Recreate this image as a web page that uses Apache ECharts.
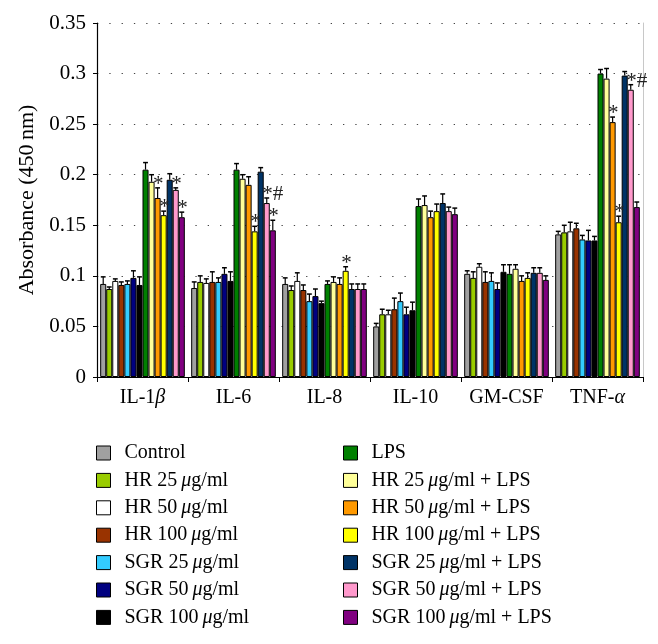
<!DOCTYPE html>
<html>
<head>
<meta charset="utf-8">
<script src="https://cdn.jsdelivr.net/npm/echarts@6/dist/echarts.min.js"></script>
<style>html,body{margin:0;padding:0;background:#fff}#c{width:658px;height:644px}</style>
</head>
<body>
<div id="c"></div>
<script>
const categories = ['IL-1β', 'IL-6', 'IL-8', 'IL-10', 'GM-CSF', 'TNF-α'];
const yTicks = [0, 0.05, 0.1, 0.15, 0.2, 0.25, 0.3, 0.35];
const seriesNames = [
  'Control', 'HR 25\u2009μg/ml', 'HR 50\u2009μg/ml', 'HR 100\u2009μg/ml',
  'SGR 25\u2009μg/ml', 'SGR 50\u2009μg/ml', 'SGR 100\u2009μg/ml',
  'LPS', 'HR 25\u2009μg/ml + LPS', 'HR 50\u2009μg/ml + LPS', 'HR 100\u2009μg/ml + LPS',
  'SGR 25\u2009μg/ml + LPS', 'SGR 50\u2009μg/ml + LPS', 'SGR 100\u2009μg/ml + LPS'
];
const colors = ['#a0a0a0', '#99cc00', '#ffffff', '#993300', '#33ccff', '#000080', '#000000',
  '#008000', '#ffff99', '#ff9900', '#ffff00', '#003366', '#ff99cc', '#800080'];

// values per series, one entry per category
const control    = [0.092, 0.088, 0.092, 0.050, 0.102, 0.141];
const hr25       = [0.087, 0.094, 0.086, 0.062, 0.098, 0.143];
const hr50       = [0.095, 0.093, 0.095, 0.062, 0.109, 0.144];
const hr100      = [0.091, 0.094, 0.086, 0.067, 0.094, 0.147];
const sgr25      = [0.092, 0.094, 0.075, 0.075, 0.095, 0.136];
const sgr50      = [0.098, 0.102, 0.080, 0.062, 0.087, 0.135];
const sgr100     = [0.091, 0.095, 0.073, 0.066, 0.104, 0.135];
const lps        = [0.205, 0.205, 0.092, 0.169, 0.102, 0.300];
const hr25Lps    = [0.193, 0.196, 0.094, 0.170, 0.107, 0.295];
const hr50Lps    = [0.177, 0.190, 0.092, 0.158, 0.095, 0.252];
const hr100Lps   = [0.160, 0.144, 0.105, 0.164, 0.098, 0.153];
const sgr25Lps   = [0.195, 0.203, 0.087, 0.172, 0.103, 0.298];
const sgr50Lps   = [0.185, 0.172, 0.087, 0.164, 0.103, 0.284];
const sgr100Lps  = [0.158, 0.145, 0.087, 0.161, 0.096, 0.168];
const values = [control, hr25, hr50, hr100, sgr25, sgr50, sgr100,
  lps, hr25Lps, hr50Lps, hr100Lps, sgr25Lps, sgr50Lps, sgr100Lps];

// error bar sizes (upper), per series
const controlErr   = [0.007, 0.006, 0.006, 0.003, 0.003, 0.003];
const hr25Err      = [0.002, 0.006, 0.004, 0.005, 0.006, 0.007];
const hr50Err      = [0.002, 0.004, 0.008, 0.004, 0.003, 0.009];
const hr100Err     = [0.003, 0.010, 0.005, 0.011, 0.010, 0.005];
const sgr25Err     = [0.003, 0.004, 0.007, 0.008, 0.008, 0.004];
const sgr50Err     = [0.007, 0.006, 0.007, 0.007, 0.006, 0.010];
const sgr100Err    = [0.008, 0.009, 0.002, 0.008, 0.007, 0.004];
const lpsErr       = [0.007, 0.006, 0.003, 0.007, 0.009, 0.004];
const hr25LpsErr   = [0.007, 0.004, 0.005, 0.009, 0.004, 0.010];
const hr50LpsErr   = [0.010, 0.008, 0.006, 0.006, 0.005, 0.005];
const hr100LpsErr  = [0.004, 0.005, 0.004, 0.007, 0.005, 0.006];
const sgr25LpsErr  = [0.006, 0.004, 0.005, 0.009, 0.005, 0.004];
const sgr50LpsErr  = [0.002, 0.005, 0.005, 0.004, 0.005, 0.005];
const sgr100LpsErr = [0.005, 0.010, 0.005, 0.006, 0.004, 0.005];
const errors = [controlErr, hr25Err, hr50Err, hr100Err, sgr25Err, sgr50Err, sgr100Err,
  lpsErr, hr25LpsErr, hr50LpsErr, hr100LpsErr, sgr25LpsErr, sgr50LpsErr, sgr100LpsErr];

// significance marks: [category index, series index, text]
const marks = [
  [0, 9, '*'], [0, 10, '*'], [0, 12, '*'], [0, 13, '*'],
  [1, 10, '*'], [1, 12, '*#'], [1, 13, '*'],
  [2, 10, '*'],
  [5, 9, '*'], [5, 10, '*'], [5, 12, '*#']
];

const FONT = 'Liberation Serif';
const NS = seriesNames.length;
const CAT_GAP = 0.07;

function barCenter(api, cat, s, val) {
  const p = api.coord([cat, val]);
  const band = api.size([1, 0])[0];
  const total = band * (1 - CAT_GAP);
  const w = total / NS;
  return { x: p[0] - total / 2 + w * (s + 0.5), y: p[1], w: w };
}

const errData = [];
values.forEach((arr, s) => arr.forEach((v, c) => errData.push([c, s, v, errors[s][c]])));
const markData = marks.map(m => [m[0], m[1], values[m[1]][m[0]] + errors[m[1]][m[0]], m[2]]);

const series = seriesNames.map((n, i) => ({
  name: n, type: 'bar', data: values[i], barGap: '0%', barCategoryGap: (CAT_GAP * 100) + '%',
  itemStyle: { color: colors[i], borderColor: '#000', borderWidth: 1 },
  emphasis: { disabled: true }, animation: false
}));

series.push({
  type: 'custom', data: errData, z: 5, animation: false, silent: true,
  renderItem: function (params, api) {
    const c = api.value(0), s = api.value(1), v = api.value(2), e = api.value(3);
    const b = barCenter(api, c, s, v);
    const t = api.coord([c, v + e])[1];
    const hw = b.w * 0.4;
    return { type: 'group', children: [
      { type: 'line', shape: { x1: b.x, y1: b.y, x2: b.x, y2: t }, style: { stroke: '#000', lineWidth: 1.2 } },
      { type: 'line', shape: { x1: b.x - hw, y1: t, x2: b.x + hw, y2: t }, style: { stroke: '#000', lineWidth: 1.5 } }
    ]};
  }
});

series.push({
  type: 'custom', data: markData, z: 6, animation: false, silent: true,
  renderItem: function (params, api) {
    const c = api.value(0), s = api.value(1), top = api.value(2);
    const b = barCenter(api, c, s, top);
    return { type: 'text', style: {
      x: b.x - 4.5, y: b.y + 7, text: markData[params.dataIndex][3],
      font: '21px "' + FONT + '"', fill: '#222', textAlign: 'left', textVerticalAlign: 'bottom'
    }};
  }
});

const richLegend = { i: { fontFamily: FONT, fontSize: 20, fontStyle: 'italic', color: '#000', lineHeight: 20 } };
const richAxis = { i: { fontFamily: FONT, fontSize: 20, fontStyle: 'italic', color: '#000' } };
function legendFmt(n) { return n.replace('μ', '{i|μ}'); }

const legendBase = {
  orient: 'vertical', itemWidth: 14, itemHeight: 14, itemGap: 7.4, icon: 'rect',
  selectedMode: false, padding: 0, height: 200,
  itemStyle: { borderColor: '#000', borderWidth: 1 },
  textStyle: { fontFamily: FONT, fontSize: 20, color: '#000', lineHeight: 20,
    padding: [0, 0, 0, 9], rich: richLegend },
  formatter: legendFmt
};

const option = {
  backgroundColor: '#fff',
  animation: false,
  grid: { left: 97, top: 23, right: 15, bottom: 267 },
  legend: [
    Object.assign({}, legendBase, { left: 96, top: 443, data: seriesNames.slice(0, 7) }),
    Object.assign({}, legendBase, { left: 343, top: 443, data: seriesNames.slice(7) })
  ],
  xAxis: [{
    type: 'category', data: categories,
    axisLine: { lineStyle: { color: '#000', width: 1.2 } },
    axisTick: { show: true, length: 5, lineStyle: { color: '#000' } },
    axisLabel: {
      fontFamily: FONT, fontSize: 20, color: '#000', margin: 11, interval: 0,
      formatter: v => v.replace(/([αβ])/, '{i|$1}'), rich: richAxis
    },
    splitLine: { show: false }
  }, {
    type: 'category', data: categories, position: 'top',
    axisLine: { show: true, lineStyle: { color: '#000', width: 1.2 } },
    axisTick: { show: false }, axisLabel: { show: false }
  }],
  yAxis: [{
    type: 'value', min: yTicks[0], max: yTicks[yTicks.length - 1], interval: 0.05,
    name: 'Absorbance (450\u2009nm)', nameLocation: 'middle', nameGap: 59,
    nameTextStyle: { fontFamily: FONT, fontSize: 22, color: '#000' },
    axisLine: { show: true, lineStyle: { color: '#000', width: 1.2 } },
    axisTick: { show: true, length: 4, lineStyle: { color: '#000' } },
    axisLabel: { fontFamily: FONT, fontSize: 21, color: '#000', margin: 11,
      formatter: v => String(parseFloat(v.toFixed(2))) },
    splitLine: { show: true, lineStyle: { color: '#444', type: [1.3, 11], width: 1.2 } }
  }, {
    type: 'value', min: yTicks[0], max: yTicks[yTicks.length - 1], interval: 0.05, position: 'right',
    axisLine: { show: true, lineStyle: { color: '#c8c8c8', width: 1 } },
    axisTick: { show: false }, axisLabel: { show: false }, splitLine: { show: false }
  }],
  series: series
};

const chart = echarts.init(document.getElementById('c'), null, { renderer: 'canvas' });
chart.setOption(option);
</script>
</body>
</html>
